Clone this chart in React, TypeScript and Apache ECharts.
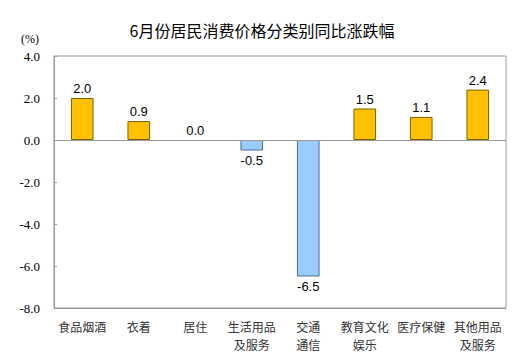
import React, { useEffect, useRef } from "react";
import * as echarts from "echarts";

const categories = ["食品烟酒", "衣着", "居住", "生活用品\n及服务", "交通\n通信", "教育文化\n娱乐", "医疗保健", "其他用品\n及服务"];
const values = [2.0, 0.9, 0.0, -0.5, -6.5, 1.5, 1.1, 2.4];
const yTicks = { min: -8, max: 4, interval: 2 };
const titleText = "6月份居民消费价格分类别同比涨跌幅";
const unitText = "(%)";

export default function App() {
  const ref = useRef<HTMLDivElement>(null);
  useEffect(() => {
    document.body.style.margin = "0";
    const chart = echarts.init(ref.current!, null, { renderer: "svg" });
    chart.setOption({
      animation: false,
      backgroundColor: "#fff",
      title: {
        text: titleText,
        left: 257,
        textAlign: "center",
        top: 17,
        textStyle: { fontFamily: "Noto Sans CJK SC", fontSize: 16, fontWeight: "normal", color: "#000" },
      },
      graphic: [
        {
          type: "text",
          left: 21,
          top: 33,
          style: { text: unitText, font: "12px 'Liberation Serif'", fill: "#000" },
        },
      ],
      grid: { left: 54, right: 25, top: 56, bottom: 50, show: true, borderColor: "#999", borderWidth: 1 },
      xAxis: {
        type: "category",
        data: categories,
        axisLine: { onZero: false, show: true, lineStyle: { color: "#999" } },
        axisTick: { show: false },
        axisLabel: {
          interval: 0,
          margin: 9,
          color: "#333",
          fontFamily: "Noto Sans CJK SC",
          fontSize: 12,
          lineHeight: 18,
        },
      },
      yAxis: {
        type: "value",
        min: yTicks.min,
        max: yTicks.max,
        interval: yTicks.interval,
        axisLine: { show: true, lineStyle: { color: "#999" } },
        axisTick: { show: true, inside: true, length: 3, lineStyle: { color: "#999" } },
        splitLine: { show: false },
        axisLabel: {
          formatter: (v: number) => v.toFixed(1),
          fontFamily: "Liberation Serif",
          fontSize: 13,
          color: "#000",
          margin: 14,
        },
      },
      series: [
        {
          type: "bar",
          barWidth: "40%",
          data: values.map((v) => ({
            value: v,
            itemStyle:
              v > 0
                ? { color: "#FFC000", borderColor: "#7F6000", borderWidth: 1 }
                : v < 0
                ? { color: "#99CCFF", borderColor: "#4F6F8F", borderWidth: 1 }
                : { color: "transparent", borderWidth: 0 },
            label: { position: v >= 0 ? "top" : "bottom" },
          })),
          label: {
            show: true,
            formatter: (p: any) => Number(p.value).toFixed(1),
            fontFamily: "Liberation Sans",
            fontSize: 13,
            color: "#000",
            distance: 3,
          },
          markLine: {
            silent: true,
            symbol: "none",
            label: { show: false },
            lineStyle: { color: "#999", type: "solid", width: 1 },
            data: [{ yAxis: 0 }],
          },
        },
      ],
    });
    return () => chart.dispose();
  }, []);
  return <div ref={ref} style={{ position: "absolute", left: 0, top: 0, width: 531, height: 358 }} />;
}
